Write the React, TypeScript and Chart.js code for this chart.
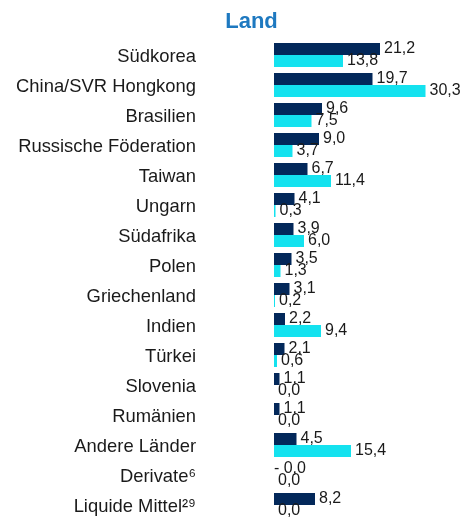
import { useEffect, useRef } from "react";
import { Chart, registerables } from "chart.js";

Chart.register(...registerables);

const categories = [
  "Südkorea",
  "China/SVR Hongkong",
  "Brasilien",
  "Russische Föderation",
  "Taiwan",
  "Ungarn",
  "Südafrika",
  "Polen",
  "Griechenland",
  "Indien",
  "Türkei",
  "Slovenia",
  "Rumänien",
  "Andere Länder",
  "Derivate⁶",
  "Liquide Mittel²⁹",
];
const fondsValues = [21.2, 19.7, 9.6, 9.0, 6.7, 4.1, 3.9, 3.5, 3.1, 2.2, 2.1, 1.1, 1.1, 4.5, -0.02, 8.2];
const benchmarkValues = [13.8, 30.3, 7.5, 3.7, 11.4, 0.3, 6.0, 1.3, 0.2, 9.4, 0.6, 0.0, 0.0, 15.4, 0.0, 0.0];
const titleText = "Land";

const FONT = "'Liberation Sans', Arial, sans-serif";
const TEXT = "#1a1a1a";

const fmt = (v: number) =>
  (v < 0 ? "- " : "") + Math.abs(v).toFixed(1).replace(".", ",");

const valueLabels = {
  id: "valueLabels",
  afterDatasetsDraw(chart: any) {
    const ctx = chart.ctx;
    ctx.save();
    ctx.font = `16px ${FONT}`;
    ctx.fillStyle = TEXT;
    ctx.textAlign = "left";
    ctx.textBaseline = "middle";
    chart.data.datasets.forEach((ds: any, i: number) => {
      const meta = chart.getDatasetMeta(i);
      meta.data.forEach((el: any, j: number) => {
        const v = ds.data[j];
        const x = v < 0 ? Math.min(el.x, el.base) : Math.max(el.x, el.base) + 4;
        ctx.fillText(fmt(v), x, el.y);
      });
    });
    ctx.restore();
  },
};

const titlePlugin = {
  id: "offsetTitle",
  afterDraw(chart: any) {
    const ctx = chart.ctx;
    ctx.save();
    ctx.font = `bold 22px ${FONT}`;
    ctx.fillStyle = "#1e79c0";
    ctx.textAlign = "center";
    ctx.textBaseline = "middle";
    ctx.fillText(titleText, (chart.width + 42) / 2, 22);
    ctx.restore();
  },
};

export default function App() {
  const ref = useRef<HTMLCanvasElement>(null);
  useEffect(() => {
    if (!ref.current) return;
    const chart = new Chart(ref.current, {
      type: "bar",
      data: {
        labels: categories,
        datasets: [
          {
            label: "Fonds",
            data: fondsValues,
            backgroundColor: "#03285a",
            borderWidth: 0,
            barPercentage: 1,
            categoryPercentage: 0.8,
          },
          {
            label: "Benchmark",
            data: benchmarkValues,
            backgroundColor: "#14e2ef",
            borderWidth: 0,
            barPercentage: 1,
            categoryPercentage: 0.8,
          },
        ],
      },
      options: {
        indexAxis: "y",
        responsive: true,
        maintainAspectRatio: false,
        animation: false,
        devicePixelRatio: 1,
        layout: { padding: { left: 0, right: 12, top: 40, bottom: 0 } },
        plugins: {
          legend: { display: false },
          tooltip: { enabled: false },
          title: { display: false },
        },
        scales: {
          x: { display: false, min: 0, max: 35 },
          y: {
            grid: { display: false, drawTicks: false },
            border: { display: false },
            ticks: {
              padding: 78,
              labelOffset: 2,
              color: TEXT,
              font: { size: 18.4, family: FONT },
              autoSkip: false,
            },
            afterFit: (s: any) => {
              s.width = 274;
              s.paddingTop = 0;
              s.paddingBottom = 0;
            },
          },
        },
      },
      plugins: [valueLabels, titlePlugin],
    });
    return () => chart.destroy();
  }, []);
  return (
    <div style={{ position: "absolute", left: 0, top: 0, width: 461, height: 520 }}>
      <canvas ref={ref} />
    </div>
  );
}
